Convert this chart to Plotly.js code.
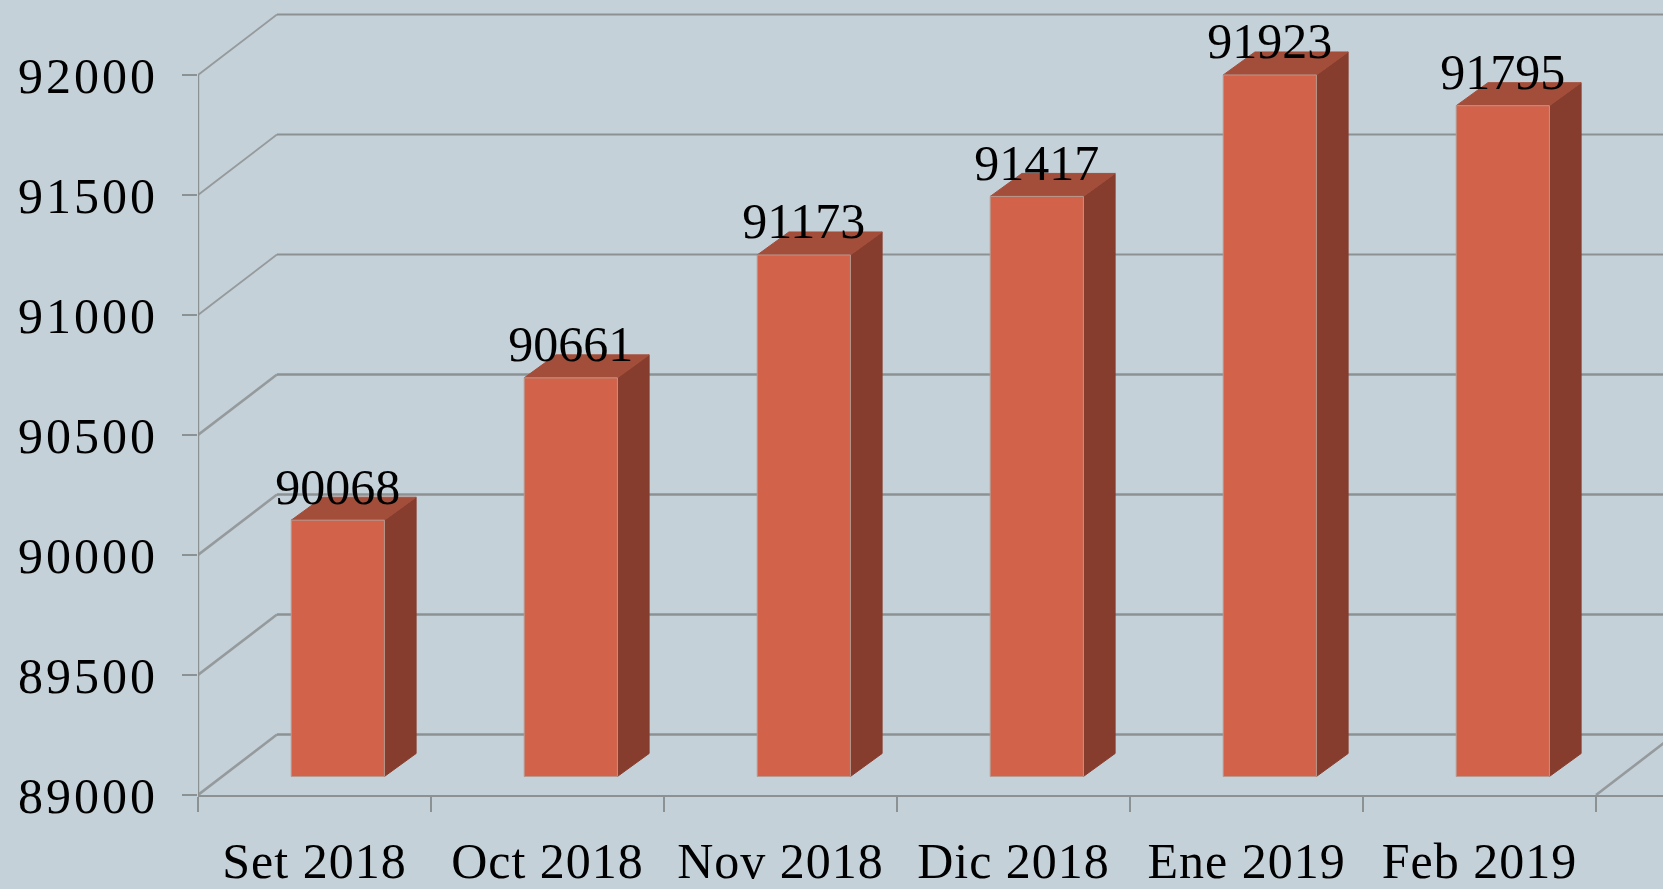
<!DOCTYPE html>
<html><head><meta charset="utf-8">
<script src="https://cdn.plot.ly/plotly-3.0.1.min.js"></script>
<style>html,body{margin:0;padding:0;background:#c5d1d8;overflow:hidden}
.xtick text{letter-spacing:1px}
.ytick text{letter-spacing:3px}
</style>
</head><body><div id="chart" style="width:1663px;height:889px"></div>
<script>
const categories = ["Set 2018","Oct 2018","Nov 2018","Dic 2018","Ene 2019","Feb 2019"];
const values = [90068,90661,91173,91417,91923,91795];
const yTicks = [89000,89500,90000,90500,91000,91500,92000];
const slotEdges = [0,1,2,3,4,5,6];

const W=1663,H=889,ml=198,mb=94;
const pxX=233, pxY=0.24;
const xMax=(W-ml)/pxX, yMin=89000, yMax=yMin+(H-mb)/pxY;
const wallDX=79/pxX, wallDY=60.5/pxY;
const barDX=31.7/pxX, barDY=23/pxY;
const barL=0.40, barR=0.80, barOffY=18.5/pxY, labelGap=4/pxY;

const font="'Liberation Serif', serif";
const gridColor="#8c9193";
const traces=[];
yTicks.forEach(v=>{
  const w=v>90500?1.8:2.6;
  traces.push({type:'scatter',mode:'lines',x:[0,wallDX],y:[v,v+wallDY],
    line:{color:'#959a9d',width:w},hoverinfo:'skip',showlegend:false});
  traces.push({type:'scatter',mode:'lines',x:[wallDX,xMax],y:[v+wallDY,v+wallDY],
    line:{color:gridColor,width:w},hoverinfo:'skip',showlegend:false});
});
traces.push({type:'scatter',mode:'lines',x:[6,6+wallDX],y:[yMin,yMin+wallDY],
  line:{color:'#959a9d',width:2.6},hoverinfo:'skip',showlegend:false});
values.forEach((v,i)=>{
  const l=i+barL,r=i+barR,b=yMin+barOffY,t=v+barOffY;
  traces.push({type:'scatter',mode:'lines',fill:'toself',fillcolor:'#873d2e',
    x:[r,r+barDX,r+barDX,r,r],y:[b,b+barDY,t+barDY,t,b],
    line:{color:'#873d2e',width:1},hoverinfo:'skip',showlegend:false});
  traces.push({type:'scatter',mode:'lines',fill:'toself',fillcolor:'#a34e3a',
    x:[l,l+barDX,r+barDX,r,l],y:[t,t+barDY,t+barDY,t,t],
    line:{color:'#a34e3a',width:1},hoverinfo:'skip',showlegend:false});
  traces.push({type:'scatter',mode:'lines',fill:'toself',fillcolor:'#d26249',
    x:[l,r,r,l,l],y:[b,b,t,t,b],
    line:{color:'#b89a90',width:1},hoverinfo:'skip',showlegend:false});
});
traces.push({type:'scatter',mode:'text',x:values.map((v,i)=>i+(barL+barR)/2),y:values.map(v=>v+barOffY+labelGap),
  text:values.map(String),textposition:'top center',cliponaxis:false,
  textfont:{family:font,size:50,color:'#000'},hoverinfo:'skip',showlegend:false});

Plotly.newPlot('chart',traces,{
  width:W,height:H,showlegend:false,
  paper_bgcolor:'#c5d1d8',plot_bgcolor:'#c5d1d8',
  margin:{l:ml,r:0,t:0,b:mb,pad:0},
  xaxis:{range:[0,xMax],tickmode:'array',tickvals:categories.map((c,i)=>i+0.5),ticktext:categories,
    ticks:'',showgrid:false,zeroline:false,showline:true,linecolor:gridColor,linewidth:2.4,
    ticklabelstandoff:21,
    tickfont:{family:font,size:50,color:'#000'},
    minor:{tickmode:'array',tickvals:slotEdges,ticks:'outside',ticklen:15,tickwidth:2.4,tickcolor:gridColor,showgrid:false}},
  yaxis:{range:[yMin,yMax],tickmode:'array',tickvals:yTicks,ticktext:yTicks.map(String),
    ticks:'outside',ticklen:15,tickwidth:2.4,tickcolor:gridColor,showgrid:false,zeroline:false,
    showline:false,ticklabelstandoff:14,tickfont:{family:font,size:50,color:'#000'},automargin:false},
  shapes:[{type:'line',xref:'x',yref:'y',x0:0,x1:0,y0:yMin,y1:92000,line:{color:gridColor,width:2.4}}]
},{displayModeBar:false,staticPlot:true});
</script></body></html>
